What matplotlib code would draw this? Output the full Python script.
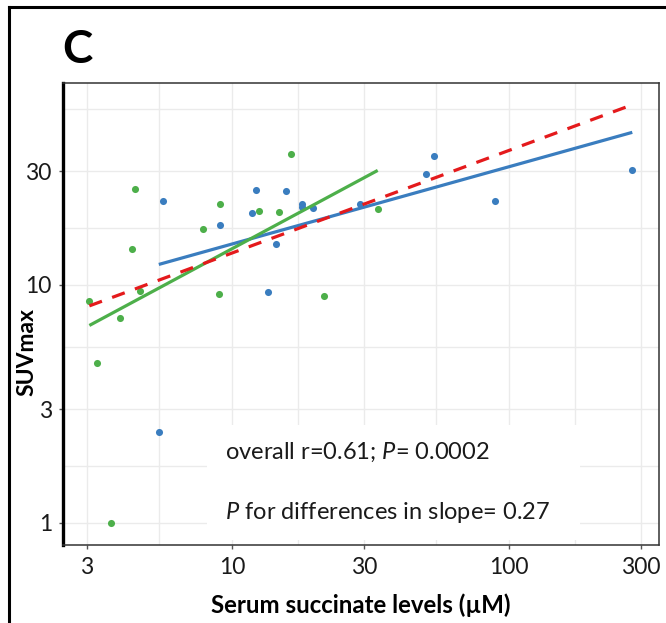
import matplotlib
matplotlib.use("Agg")
import matplotlib.pyplot as plt
from matplotlib.patches import Rectangle
from matplotlib.lines import Line2D

plt.rcParams['font.family'] = ['Lato', 'DejaVu Sans']
plt.rcParams['mathtext.fontset'] = 'custom'
plt.rcParams['mathtext.rm'] = 'Lato'
plt.rcParams['mathtext.it'] = 'Lato:italic'

# blue group (succinate, SUVmax)
blue_x = [5.65, 9.05, 11.84, 12.18, 15.67, 17.89, 17.89, 19.56, 14.41, 13.46,
          29.1, 50.0, 53.7, 89.0, 278.7, 5.45]
blue_y = [22.5, 17.8, 20.0, 25.1, 24.8, 22.0, 21.3, 21.0, 14.8, 9.38,
          22.0, 29.3, 35.0, 22.5, 30.5, 2.40]

# green group
green_x = [4.47, 4.36, 3.06, 3.95, 4.66, 7.86, 9.05, 8.95, 12.55, 14.74,
           16.33, 21.5, 33.6, 3.26, 3.66]
green_y = [25.2, 14.1, 8.55, 7.30, 9.47, 17.15, 22.0, 9.19, 20.5, 20.2,
           35.6, 8.97, 20.8, 4.69, 1.0]

# fitted lines (end points)
blue_fit_x, blue_fit_y = [5.45, 278.7], [12.2, 43.8]
green_fit_x, green_fit_y = [3.06, 33.6], [6.76, 30.3]
all_fit_x, all_fit_y = [3.06, 278.7], [8.17, 57.2]

x_ticks = [3, 10, 30, 100, 300]
y_ticks = [1, 3, 10, 30]
x_minor = [5.477, 17.32, 54.77, 173.2]
y_minor = [1.732, 5.477, 17.32, 54.77]

BLUE = '#3a7dbf'
GREEN = '#4daf4a'
RED = '#e41a1c'

fig = plt.figure(figsize=(6.66, 6.23), dpi=100)
ax = fig.add_axes([63 / 666, 1 - 545 / 623, 596 / 666, 462 / 623])

ax.set_xscale('log')
ax.set_yscale('log')
ax.set_xlim(2.458, 348)
ax.set_ylim(0.808, 70.6)

ax.set_xticks(x_ticks)
ax.set_xticklabels([str(t) for t in x_ticks])
ax.set_yticks(y_ticks)
ax.set_yticklabels([str(t) for t in y_ticks])
ax.set_xticks(x_minor, minor=True)
ax.set_yticks(y_minor, minor=True)
ax.tick_params(which='minor', length=0)
ax.tick_params(which='major', length=3, width=1, color='#555555',
               labelsize=16.5, labelcolor='#1a1a1a')
ax.tick_params(axis='x', pad=6)
ax.tick_params(axis='y', pad=5)

ax.set_axisbelow(True)
ax.grid(True, which='both', color='#ebebeb', lw=1.0, zorder=0)

for side in ['top', 'right', 'bottom']:
    ax.spines[side].set_color('#333333')
    ax.spines[side].set_linewidth(1.1)
ax.spines['left'].set_color('black')
ax.spines['left'].set_linewidth(2.4)

# white box behind the statistics text
ax.add_patch(Rectangle((0.2416, 0.0108), 0.6258, 0.2489, transform=ax.transAxes,
                       facecolor='white', edgecolor='none', zorder=1))

ax.scatter(blue_x, blue_y, s=26, color=BLUE, zorder=3, linewidths=0)
ax.scatter(green_x, green_y, s=26, color=GREEN, zorder=3, linewidths=0)

ax.plot(blue_fit_x, blue_fit_y, color=BLUE, lw=2.3, zorder=4, solid_capstyle='butt')
ax.plot(green_fit_x, green_fit_y, color=GREEN, lw=2.3, zorder=4, solid_capstyle='butt')
ax.plot(all_fit_x, all_fit_y, color=RED, lw=2.3, dashes=(4.2, 3.4), zorder=5)

ax.text(0.2718, 0.2013, r'overall r=0.61; $\mathit{P}$= 0.0002', transform=ax.transAxes,
        fontsize=17, va='center', ha='left', color='#1a1a1a', zorder=6)
ax.text(0.2718, 0.0693, r'$\mathit{P}$ for differences in slope= 0.27', transform=ax.transAxes,
        fontsize=17, va='center', ha='left', color='#1a1a1a', zorder=6)

fig.text(361 / 666, 1 - 605 / 623, 'Serum succinate levels (\u00b5M)', fontsize=17.3,
         fontweight='bold', ha='center', va='center')
fig.text(27 / 666, 1 - 352 / 623, 'SUVmax', fontsize=16.5, fontweight='bold',
         rotation=90, ha='center', va='center')
fig.text(77 / 666, 1 - 50 / 623, 'C', fontsize=33, fontweight='bold',
         ha='center', va='center')

# panel frame (left and top edges)
fig.add_artist(Line2D([9 / 666, 9 / 666], [0, 1 - 6.5 / 623], color='black', lw=2.2))
fig.add_artist(Line2D([9 / 666, 1], [1 - 6.5 / 623, 1 - 6.5 / 623], color='black', lw=2.2))

fig.savefig('out.png', dpi=100)
